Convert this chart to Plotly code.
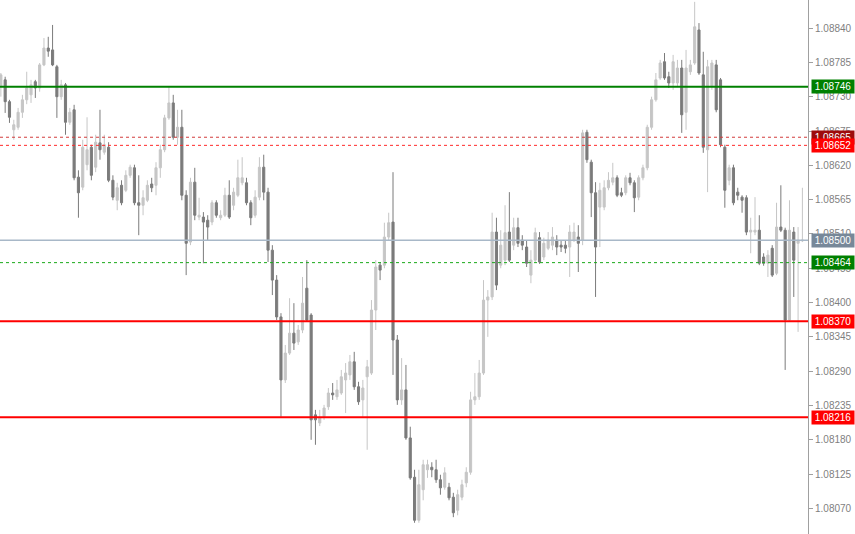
import plotly.graph_objects as go

opens = [1.08746,1.08757,1.08722,1.08677,1.08681,1.08705,1.08725,1.08733,1.08754,1.08744,
1.08781,1.08808,1.08805,1.08778,1.08730,1.08749,1.08689,1.08709,1.08601,1.08585,
1.08621,1.08649,1.08617,1.08656,1.08641,1.08649,1.08596,1.08564,1.08588,1.08580,
1.08604,1.08616,1.08560,1.08556,1.08564,1.08590,1.08588,1.08616,1.08645,1.08696,
1.08720,1.08665,1.08681,1.08572,1.08497,1.08593,1.08537,1.08537,1.08532,1.08529,
1.08560,1.08536,1.08540,1.08572,1.08556,1.08572,1.08592,1.08592,1.08560,1.08540,
1.08569,1.08617,1.08577,1.08484,1.08436,1.08377,1.08276,1.08319,1.08351,1.08337,
1.08356,1.08423,1.08380,1.08220,1.08207,1.08217,1.08233,1.08255,1.08249,1.08255,
1.08276,1.08284,1.08305,1.08265,1.08244,1.08281,1.08287,1.08388,1.08460,1.08460,
1.08505,1.08529,1.08340,1.08244,1.08260,1.08183,1.08120,1.08051,1.08100,1.08132,
1.08136,1.08132,1.08116,1.08104,1.08104,1.08088,1.08067,1.08088,1.08111,1.08128,
1.08244,1.08249,1.08287,1.08404,1.08409,1.08513,1.08460,1.08468,1.08513,1.08492,
1.08520,1.08500,1.08489,1.08444,1.08468,1.08504,1.08473,1.08487,1.08492,1.08500,
1.08492,1.08492,1.08489,1.08500,1.08505,1.08500,1.08673,1.08625,1.08576,1.08553,
1.08553,1.08584,1.08593,1.08600,1.08576,1.08576,1.08600,1.08592,1.08569,1.08600,
1.08616,1.08681,1.08725,1.08760,1.08786,1.08762,1.08752,1.08752,1.08776,1.08705,
1.08770,1.08784,1.08837,1.08765,1.08645,1.08746,1.08781,1.08757,1.08649,1.08596,
1.08616,1.08577,1.08569,1.08568,1.08513,1.08513,1.08516,1.08473,1.08463,1.08487,
1.08447,1.08521,1.08516,1.08372,1.08513,1.08495,1.08499]

highs = [1.08768,1.08762,1.08725,1.08693,1.08712,1.08733,1.08770,1.08757,1.08757,1.08784,
1.08824,1.08826,1.08845,1.08781,1.08757,1.08752,1.08712,1.08717,1.08612,1.08661,
1.08697,1.08653,1.08669,1.08709,1.08669,1.08657,1.08604,1.08592,1.08596,1.08612,
1.08621,1.08621,1.08604,1.08580,1.08596,1.08600,1.08625,1.08653,1.08701,1.08746,
1.08733,1.08709,1.08709,1.08580,1.08600,1.08616,1.08568,1.08545,1.08540,1.08564,
1.08564,1.08548,1.08584,1.08596,1.08584,1.08629,1.08633,1.08600,1.08564,1.08580,
1.08633,1.08637,1.08584,1.08492,1.08444,1.08383,1.08332,1.08407,1.08399,1.08364,
1.08441,1.08468,1.08383,1.08228,1.08228,1.08236,1.08263,1.08271,1.08276,1.08292,
1.08303,1.08316,1.08321,1.08273,1.08276,1.08308,1.08404,1.08468,1.08465,1.08528,
1.08544,1.08609,1.08348,1.08311,1.08300,1.08201,1.08132,1.08132,1.08148,1.08148,
1.08144,1.08148,1.08124,1.08136,1.08111,1.08095,1.08100,1.08116,1.08136,1.08257,
1.08287,1.08308,1.08436,1.08420,1.08544,1.08536,1.08516,1.08556,1.08577,1.08536,
1.08536,1.08508,1.08500,1.08484,1.08520,1.08513,1.08504,1.08513,1.08521,1.08508,
1.08500,1.08500,1.08524,1.08528,1.08524,1.08677,1.08677,1.08629,1.08593,1.08592,
1.08596,1.08609,1.08624,1.08604,1.08584,1.08604,1.08608,1.08596,1.08604,1.08621,
1.08685,1.08730,1.08768,1.08789,1.08800,1.08770,1.08797,1.08789,1.08789,1.08805,
1.08789,1.08882,1.08848,1.08802,1.08789,1.08789,1.08789,1.08760,1.08653,1.08621,
1.08621,1.08584,1.08572,1.08572,1.08536,1.08569,1.08540,1.08479,1.08484,1.08492,
1.08560,1.08588,1.08520,1.08564,1.08521,1.08521,1.08584]

lows = [1.08730,1.08704,1.08688,1.08661,1.08677,1.08696,1.08718,1.08720,1.08728,1.08738,
1.08779,1.08794,1.08779,1.08696,1.08725,1.08669,1.08685,1.08596,1.08536,1.08580,
1.08612,1.08596,1.08609,1.08629,1.08637,1.08593,1.08564,1.08548,1.08556,1.08577,
1.08600,1.08556,1.08508,1.08540,1.08561,1.08577,1.08572,1.08600,1.08641,1.08693,
1.08661,1.08653,1.08564,1.08444,1.08492,1.08532,1.08532,1.08463,1.08500,1.08524,
1.08536,1.08532,1.08537,1.08534,1.08548,1.08569,1.08588,1.08556,1.08524,1.08536,
1.08564,1.08564,1.08465,1.08412,1.08372,1.08217,1.08271,1.08316,1.08324,1.08332,
1.08351,1.08369,1.08180,1.08172,1.08202,1.08212,1.08228,1.08244,1.08244,1.08252,
1.08223,1.08276,1.08260,1.08236,1.08217,1.08164,1.08284,1.08356,1.08436,1.08455,
1.08500,1.08284,1.08236,1.08236,1.08180,1.08116,1.08047,1.08047,1.08083,1.08119,
1.08120,1.08111,1.08092,1.08100,1.08083,1.08056,1.08059,1.08083,1.08104,1.08124,
1.08236,1.08244,1.08284,1.08345,1.08404,1.08420,1.08455,1.08460,1.08465,1.08484,
1.08489,1.08484,1.08457,1.08431,1.08465,1.08462,1.08468,1.08484,1.08484,1.08476,
1.08481,1.08479,1.08441,1.08497,1.08449,1.08492,1.08624,1.08537,1.08409,1.08489,
1.08548,1.08580,1.08588,1.08569,1.08569,1.08572,1.08588,1.08545,1.08564,1.08596,
1.08612,1.08677,1.08722,1.08757,1.08757,1.08744,1.08741,1.08746,1.08672,1.08677,
1.08765,1.08781,1.08765,1.08640,1.08577,1.08741,1.08705,1.08649,1.08552,1.08588,
1.08556,1.08564,1.08544,1.08508,1.08479,1.08508,1.08460,1.08459,1.08441,1.08441,
1.08444,1.08513,1.08292,1.08369,1.08409,1.08353,1.08497]

closes = [1.08765,1.08722,1.08697,1.08685,1.08705,1.08725,1.08744,1.08749,1.08744,1.08781,
1.08808,1.08803,1.08781,1.08730,1.08749,1.08689,1.08705,1.08600,1.08576,1.08649,
1.08645,1.08604,1.08657,1.08645,1.08653,1.08596,1.08569,1.08584,1.08560,1.08604,
1.08617,1.08560,1.08556,1.08568,1.08588,1.08584,1.08616,1.08645,1.08696,1.08720,
1.08665,1.08681,1.08572,1.08495,1.08593,1.08540,1.08540,1.08529,1.08521,1.08560,
1.08540,1.08540,1.08572,1.08537,1.08577,1.08600,1.08600,1.08560,1.08536,1.08569,
1.08617,1.08577,1.08484,1.08436,1.08377,1.08276,1.08319,1.08351,1.08335,1.08356,
1.08399,1.08372,1.08212,1.08212,1.08215,1.08231,1.08255,1.08252,1.08260,1.08281,
1.08287,1.08305,1.08265,1.08241,1.08263,1.08297,1.08388,1.08457,1.08452,1.08505,
1.08528,1.08340,1.08244,1.08260,1.08183,1.08119,1.08051,1.08108,1.08140,1.08140,
1.08132,1.08116,1.08103,1.08127,1.08087,1.08063,1.08092,1.08108,1.08128,1.08244,
1.08249,1.08287,1.08404,1.08409,1.08513,1.08428,1.08492,1.08512,1.08468,1.08520,
1.08495,1.08492,1.08463,1.08468,1.08512,1.08465,1.08495,1.08500,1.08505,1.08489,
1.08489,1.08487,1.08513,1.08513,1.08495,1.08672,1.08629,1.08576,1.08489,1.08580,
1.08584,1.08596,1.08600,1.08572,1.08572,1.08600,1.08592,1.08568,1.08600,1.08616,
1.08681,1.08725,1.08757,1.08784,1.08760,1.08752,1.08786,1.08776,1.08701,1.08776,
1.08781,1.08842,1.08768,1.08649,1.08778,1.08784,1.08709,1.08653,1.08580,1.08616,
1.08560,1.08572,1.08564,1.08513,1.08516,1.08516,1.08463,1.08463,1.08476,1.08444,
1.08521,1.08516,1.08372,1.08516,1.08468,1.08500,1.08500]

tick_vals = [1.08840, 1.08785, 1.08730, 1.08675, 1.08620, 1.08565, 1.08510, 1.08455,
             1.08400, 1.08345, 1.08290, 1.08235, 1.08180, 1.08125, 1.08070]

level_prices = [1.08746, 1.08665, 1.08652, 1.08500, 1.08464, 1.08370, 1.08216]
level_line_colors = ["#008000", "#d23c3c", "#ff2a2a", "#a8b8c8", "#1aaa1a", "#ff0000", "#ff0000"]
level_dashes = ["solid", "3px,3px", "3px,3px", "solid", "3px,3px", "solid", "solid"]
level_widths = [2, 1, 1, 1.5, 1, 2, 2]
level_box_colors = ["#008000", "#9e0b0b", "#ff0000", "#778899", "#008000", "#ff0000", "#ff0000"]

x_idx = list(range(len(opens)))

fig = go.Figure(go.Candlestick(
    x=x_idx, open=opens, high=highs, low=lows, close=closes,
    increasing=dict(line=dict(color="#c6c6c6", width=1), fillcolor="#c6c6c6"),
    decreasing=dict(line=dict(color="#7b7b7b", width=1), fillcolor="#7b7b7b"),
    hoverinfo="skip", showlegend=False,
))

for p, c, d, w in zip(level_prices, level_line_colors, level_dashes, level_widths):
    fig.add_shape(type="line", xref="paper", x0=0, x1=1, yref="y", y0=p, y1=p,
                  line=dict(color=c, width=w, dash=d), layer="above")

for p, bc in zip(level_prices, level_box_colors):
    fig.add_annotation(x=1, xref="paper", y=p, yref="y", xanchor="left", yanchor="middle",
                       xshift=3, text=f"{p:.5f}", showarrow=False, bgcolor=bc,
                       font=dict(family="Liberation Sans", size=10, color="white"),
                       width=40, height=11, borderpad=1, align="center")

fig.update_layout(
    width=855, height=534,
    margin=dict(l=0, r=47, t=0, b=0),
    paper_bgcolor="white", plot_bgcolor="white",
    font=dict(family="Liberation Sans", size=10, color="#7f7f7f"),
    xaxis=dict(range=[-0.2, 187.3], visible=False, rangeslider=dict(visible=False),
               showgrid=False, zeroline=False),
    yaxis=dict(range=[1.08029, 1.08885], side="right", showgrid=False, zeroline=False,
               showline=True, linecolor="#a0a0a0", linewidth=1,
               ticks="outside", ticklen=4, tickcolor="#a0a0a0",
               tickvals=tick_vals, tickformat=".5f",
               tickfont=dict(family="Liberation Sans", size=10, color="#7f7f7f")),
)

fig.write_html("out.html", config={"displayModeBar": False},
               post_script="document.body.style.margin='0';document.body.style.overflow='hidden';")
